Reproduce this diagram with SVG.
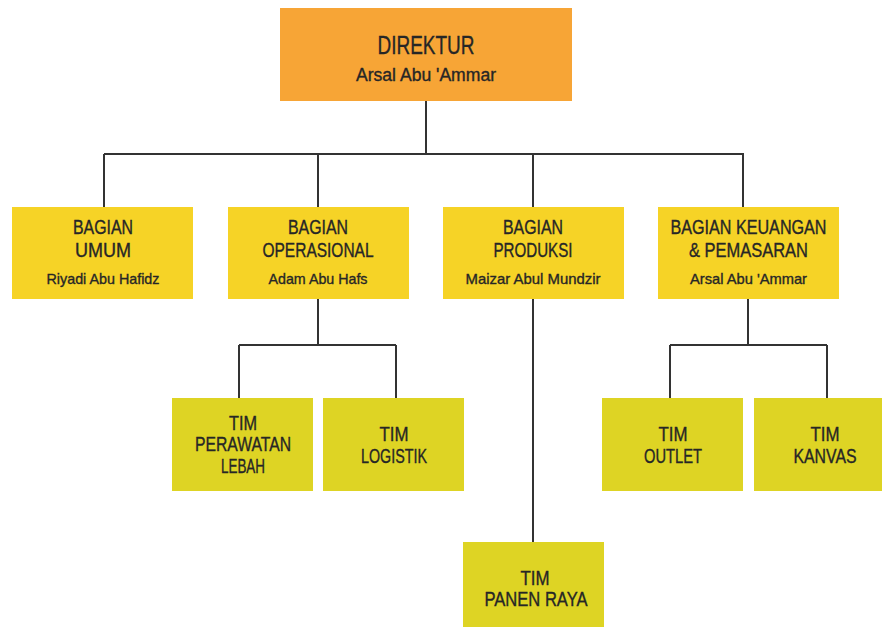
<svg xmlns="http://www.w3.org/2000/svg" width="882" height="627" viewBox="0 0 882 627">
<style>
.dir{fill:#F7A536}
.bag{fill:#F6D326}
.tim{fill:#DED424}
text{font-family:"Liberation Sans",Arial,sans-serif;fill:#262626;stroke:#262626;stroke-width:0.35;text-anchor:middle}
.h{font-size:19.5px}
.n{font-size:15px}
.c{fill:none;stroke:#333;stroke-width:2}
</style>
<rect width="882" height="627" fill="#fff"/>
<g id="connectors">
<path class="c" d="M426 101V154M104 154H744M104 154V207M318 154V207M533 154V207M743 154V207"/>
<path class="c" d="M318 299V345M239 345H396M239 345V398M396 345V398"/>
<path class="c" d="M748 299V345M670 345H827M670 345V398M827 345V398"/>
<path class="c" d="M533 299V542"/>
</g>
<g id="direktur">
<rect class="dir" x="280" y="8" width="292" height="93"/>
<text x="426" y="54" font-size="26" textLength="97" lengthAdjust="spacingAndGlyphs">DIREKTUR</text>
<text x="426" y="81" font-size="17.5" textLength="140" lengthAdjust="spacingAndGlyphs">Arsal Abu 'Ammar</text>
</g>
<g id="bagian-umum">
<rect class="bag" x="12" y="207" width="181" height="92"/>
<text class="h" x="103" y="234" textLength="60" lengthAdjust="spacingAndGlyphs">BAGIAN</text>
<text class="h" x="103" y="257" textLength="56" lengthAdjust="spacingAndGlyphs">UMUM</text>
<text class="n" x="103" y="284" textLength="113" lengthAdjust="spacingAndGlyphs">Riyadi Abu Hafidz</text>
</g>
<g id="bagian-operasional">
<rect class="bag" x="228" y="207" width="181" height="92"/>
<text class="h" x="318" y="234" textLength="60" lengthAdjust="spacingAndGlyphs">BAGIAN</text>
<text class="h" x="318" y="257" textLength="111" lengthAdjust="spacingAndGlyphs">OPERASIONAL</text>
<text class="n" x="318" y="284" textLength="99" lengthAdjust="spacingAndGlyphs">Adam Abu Hafs</text>
</g>
<g id="bagian-produksi">
<rect class="bag" x="443" y="207" width="181" height="92"/>
<text class="h" x="533" y="234" textLength="60" lengthAdjust="spacingAndGlyphs">BAGIAN</text>
<text class="h" x="533" y="257" textLength="79" lengthAdjust="spacingAndGlyphs">PRODUKSI</text>
<text class="n" x="533" y="284" textLength="135" lengthAdjust="spacingAndGlyphs">Maizar Abul Mundzir</text>
</g>
<g id="bagian-keuangan">
<rect class="bag" x="658" y="207" width="181" height="92"/>
<text class="h" x="748.5" y="234" textLength="156" lengthAdjust="spacingAndGlyphs">BAGIAN KEUANGAN</text>
<text class="h" x="748.5" y="257" textLength="119" lengthAdjust="spacingAndGlyphs">&amp; PEMASARAN</text>
<text class="n" x="748.5" y="284" textLength="117" lengthAdjust="spacingAndGlyphs">Arsal Abu 'Ammar</text>
</g>
<g id="tim-perawatan">
<rect class="tim" x="172" y="398" width="141" height="93"/>
<text class="h" x="243" y="430" textLength="28" lengthAdjust="spacingAndGlyphs">TIM</text>
<text class="h" x="243" y="451" textLength="96" lengthAdjust="spacingAndGlyphs">PERAWATAN</text>
<text class="h" x="243" y="473" textLength="44" lengthAdjust="spacingAndGlyphs">LEBAH</text>
</g>
<g id="tim-logistik">
<rect class="tim" x="323" y="398" width="141" height="93"/>
<text class="h" x="394" y="441" textLength="29" lengthAdjust="spacingAndGlyphs">TIM</text>
<text class="h" x="394" y="463" textLength="66" lengthAdjust="spacingAndGlyphs">LOGISTIK</text>
</g>
<g id="tim-outlet">
<rect class="tim" x="602" y="398" width="141" height="93"/>
<text class="h" x="673" y="441" textLength="29" lengthAdjust="spacingAndGlyphs">TIM</text>
<text class="h" x="673" y="463" textLength="58" lengthAdjust="spacingAndGlyphs">OUTLET</text>
</g>
<g id="tim-kanvas">
<rect class="tim" x="754" y="398" width="141" height="93"/>
<text class="h" x="825" y="441" textLength="29" lengthAdjust="spacingAndGlyphs">TIM</text>
<text class="h" x="825" y="463" textLength="63" lengthAdjust="spacingAndGlyphs">KANVAS</text>
</g>
<g id="tim-panen">
<rect class="tim" x="463" y="542" width="141" height="93"/>
<text class="h" x="535" y="585" textLength="29" lengthAdjust="spacingAndGlyphs">TIM</text>
<text class="h" x="536" y="606" textLength="103" lengthAdjust="spacingAndGlyphs">PANEN RAYA</text>
</g>
</svg>
